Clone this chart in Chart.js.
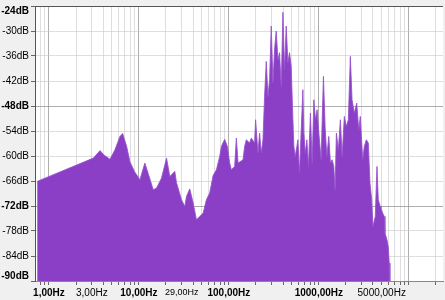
<!DOCTYPE html>
<html>
<head>
<meta charset="utf-8">
<script src="https://cdn.jsdelivr.net/npm/chart.js@4/dist/chart.umd.min.js"></script>
<style>
  html, body { margin: 0; padding: 0; background: #f0f0f0; }
  #spec { display: block; }
</style>
</head>
<body>
<canvas id="spec" width="445" height="300"></canvas>
<script>
// spectrum: frequency (Hz) and level (dB)
const freqs = [0.74, 3.12, 3.70, 4.06, 4.77, 5.42, 6.16, 6.60, 7.31, 7.95,
  8.96, 10.26, 11.65, 12.81, 14.44, 15.71, 17.85, 20.28, 22.07, 25.06,
  26.18, 29.75, 32.36, 33.79, 36.76, 40.1, 43.6, 47.5, 51.8, 56.3,
  61.2, 66.8, 72.7, 79.1, 82.6, 89.8, 96.2, 102.1, 106.6, 116,
  121.1, 126.5, 143.7, 149.7, 156.3, 170.1, 177.6, 193.2, 198.2, 210.7,
  219.6, 229.3, 239.4, 249.4, 260.4, 272.1, 283.4, 296, 309, 322,
  336, 351, 365.8, 382, 399, 415.6, 434, 453, 472, 493,
  515, 528, 546, 570, 585, 609, 665, 682, 705, 736,
  767, 807, 843, 880, 917, 957, 1000, 1060, 1125, 1174,
  1227, 1291, 1345, 1405, 1467, 1516, 1567, 1649, 1736, 1813,
  1922, 2023, 2129, 2240, 2340, 2481, 2638, 2777, 2892, 3074,
  3203, 3371, 3547, 3704, 3870, 3999, 4241, 4429, 4579, 4818,
  4905, 5122, 5338, 5433, 5718, 5910, 6063, 6173];
const levels = [-66.1, -60.5, -58.7, -59.7, -60.8, -58.5, -55.3, -54.6, -57.7, -61.4,
  -63.8, -65.7, -61.7, -64.5, -68.1, -67.7, -65.3, -60.5, -64.9, -63.7,
  -66.4, -70.5, -72.1, -69.7, -67.9, -71.3, -75.3, -74.5, -73.7, -70.5,
  -68.9, -64.7, -63.3, -60.1, -57.7, -56.0, -57.7, -61.7, -63.3, -62.5,
  -55.7, -61.7, -60.9, -57.7, -56.1, -56.9, -55.7, -56.9, -51.3, -59.3,
  -54.5, -59.3, -56.1, -45.7, -37.3, -45.7, -41.7, -28.8, -42.5, -34.4,
  -30.0, -36.9, -35.2, -43.3, -25.5, -39.3, -28.8, -37.6, -35.2, -38.5,
  -51.3, -57.7, -60.1, -57.7, -56.1, -64.1, -44.1, -54.5, -59.3, -56.1,
  -62.5, -49.7, -61.7, -46.5, -51.3, -48.9, -54.5, -60.9, -40.9, -52.9,
  -60.1, -55.3, -61.7, -60.9, -62.5, -68.1, -54.5, -58.5, -51.3, -60.1,
  -50.5, -52.9, -51.3, -36.1, -46.5, -49.7, -47.3, -53.7, -50.5, -60.9,
  -57.7, -56.1, -56.9, -66.5, -70.5, -76.9, -74.5, -62.5, -70.5, -72.1,
  -72.5, -73.7, -74.5, -78.5, -80.1, -81.8, -85.7, -95];

// axes
const yTicks = [-90, -84, -78, -72, -66, -60, -54, -48, -42, -36, -30, -24];
const yBold = [-90, -72, -48, -24];
const xGrid = [0.8, 0.9, 1, 2, 3, 4, 5, 6, 7, 8, 9, 10, 20, 30, 40, 50, 60, 70, 80, 90,
  100, 200, 300, 400, 500, 600, 700, 800, 900, 1000, 2000, 3000, 4000, 5000,
  6000, 7000, 8000, 9000, 10000, 20000];
const xLabelAt = [1, 3, 10, 30, 100, 1000, 5000];
const xLabels = ["1,00Hz", "3,00Hz", "10,00Hz", "29,00Hz", "100,00Hz", "1000,00Hz", "5000,00Hz"];
const xBold = [1, 10, 100, 1000];
const xDecades = [1, 10, 100, 1000, 10000];

const FONT = "'Liberation Sans', Arial, sans-serif";
const MAJOR = "rgba(140,140,140,0.7)";
const MINOR = "rgba(200,200,200,0.6)";

// white plot area, grey around it
const plotBg = {
  id: "plotBg",
  beforeDraw(chart) {
    const a = chart.chartArea;
    const c = chart.ctx;
    c.save();
    c.fillStyle = "#ffffff";
    c.fillRect(a.left, a.top, a.right - a.left, a.bottom - a.top);
    c.restore();
    // nudge the end labels inside like the original
    try {
      const items = chart.scales.y.getLabelItems();
      items.forEach(it => {
        if (it.label === "-24dB") it.options.translation[1] += 5;
        if (it.label === "-90dB") it.options.translation[1] -= 5;
      });
    } catch (e) {}
  }
};

new Chart(document.getElementById("spec").getContext("2d"), {
  type: "line",
  data: {
    datasets: [{
      data: freqs.map((f, i) => ({ x: f, y: levels[i] })),
      borderColor: "rgba(150,80,205,0.85)",
      backgroundColor: "#8b3fc6",
      borderWidth: 1,
      pointRadius: 0,
      tension: 0,
      fill: "start"
    }]
  },
  options: {
    responsive: false,
    animation: false,
    layout: { padding: { top: 6, right: 2, left: 0, bottom: 0 } },
    plugins: {
      legend: { display: false },
      tooltip: { enabled: false }
    },
    scales: {
      x: {
        type: "logarithmic",
        min: 0.735,
        max: 24000,
        z: 1,
        afterBuildTicks: s => { s.ticks = xGrid.map(v => ({ value: v })); },
        afterFit: s => { s.height = 19; },
        border: { display: true, color: "#888" },
        grid: {
          color: c => xDecades.includes(c.tick.value) ? MAJOR : MINOR,
          tickColor: "#666",
          tickLength: 4,
          lineWidth: 1
        },
        ticks: {
          autoSkip: false,
          maxRotation: 0,
          padding: 2,
          color: "#000",
          font: c => ({
            family: FONT,
            size: c.tick && c.tick.value === 30 ? 9 : 10,
            weight: c.tick && xBold.includes(c.tick.value) ? "bold" : "normal"
          }),
          callback: v => {
            const i = xLabelAt.indexOf(v);
            return i >= 0 ? xLabels[i] : "";
          }
        }
      },
      y: {
        type: "linear",
        min: -90,
        max: -24,
        z: 1,
        afterBuildTicks: s => { s.ticks = yTicks.map(v => ({ value: v })); },
        afterFit: s => { s.width = 35; s.paddingTop = 0; s.paddingBottom = 0; },
        border: { display: true, color: "#555" },
        grid: {
          color: c => c.tick.value === -24 ? "#555" : (yBold.includes(c.tick.value) ? MAJOR : MINOR),
          tickColor: "#666",
          tickLength: 4
        },
        ticks: {
          padding: 2,
          color: "#000",
          font: c => ({
            family: FONT,
            size: 10,
            weight: c.tick && yBold.includes(c.tick.value) ? "bold" : "normal"
          }),
          callback: v => v + "dB"
        }
      }
    }
  },
  plugins: [plotBg]
});
</script>
</body>
</html>
